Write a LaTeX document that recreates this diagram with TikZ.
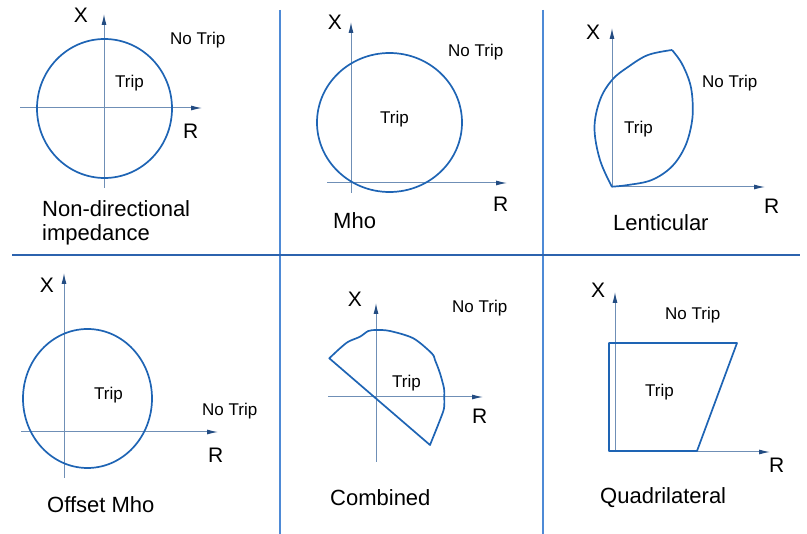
\documentclass[tikz,border=0pt]{standalone}
\usepackage{fontspec}
\setmainfont{Liberation Sans}
\usetikzlibrary{arrows.meta}
\definecolor{shapec}{HTML}{1E64B4}
\definecolor{axisc}{HTML}{6F8FB6}
\definecolor{axtip}{HTML}{234C82}
\definecolor{divv}{HTML}{4E8AD6}
\definecolor{divh}{HTML}{2C63AE}
\tikzset{
  axisline/.style={draw=axisc, line width=1pt, -{Latex[length=11pt,width=5pt,color=axtip]}},
  plainaxis/.style={draw=axisc, line width=1pt},
  region/.style={draw=shapec, line width=1.7pt, line join=round},
  divline/.style={draw=divv, line width=1.8pt},
  hdivline/.style={draw=divh, line width=1.5pt},
  big/.style={font=\fontsize{22}{24}\selectfont, inner sep=0pt, anchor=base west},
  axlbl/.style={font=\fontsize{21}{24}\selectfont, inner sep=0pt, anchor=base},
  axlblw/.style={font=\fontsize{21}{24}\selectfont, inner sep=0pt, anchor=base west},
  small/.style={font=\fontsize{17}{20}\selectfont, inner sep=0pt, anchor=base west},
}
\begin{document}
\begin{tikzpicture}[x=1pt,y=-1pt]
\useasboundingbox (0,0) rectangle (807,534);

% dividers
\coordinate (v1t) at (280,10); \coordinate (v1b) at (280,534);
\coordinate (v2t) at (543,10); \coordinate (v2b) at (543,534);
\coordinate (hl) at (12,255); \coordinate (hr) at (800,255);
\draw[divline] (v1t) -- (v1b);
\draw[divline] (v2t) -- (v2b);
\draw[hdivline] (hl) -- (hr);

% ---------- Panel 1: Non-directional impedance
\coordinate (p1xb) at (104,188); \coordinate (p1xt) at (104,14);
\coordinate (p1rl) at (20,108); \coordinate (p1rr) at (202,108);
\draw[axisline] (p1xb) -- (p1xt);
\draw[axisline] (p1rl) -- (p1rr);
\draw[region] (104.5,108.5) ellipse [x radius=67.5, y radius=69.5];
\node[axlbl] (p1X) at (81,23) {X};
\node[axlblw] (p1R) at (183,139) {R};
\node[small] (p1no) at (170,44.5) {No Trip};
\node[small] (p1trip) at (115,88) {Trip};
\node[big] (p1t1) at (42,217) {Non-directional};
\node[big] (p1t2) at (42,241) {impedance};

% ---------- Panel 2: Mho
\coordinate (p2xb) at (351,193); \coordinate (p2xt) at (351,22);
\coordinate (p2rl) at (327,183); \coordinate (p2rr) at (507,183);
\draw[axisline] (p2xb) -- (p2xt);
\draw[axisline] (p2rl) -- (p2rr);
\draw[region] (389.5,122.5) ellipse [x radius=72.5, y radius=69.5];
\node[axlbl] (p2X) at (335,30) {X};
\node[axlblw] (p2R) at (493,211.5) {R};
\node[small] (p2no) at (448,56.5) {No Trip};
\node[small] (p2trip) at (380,124) {Trip};
\node[big] (p2t) at (333,229) {Mho};

% ---------- Panel 3: Lenticular
\coordinate (p3o) at (612,187); \coordinate (p3xt) at (612,28);
\coordinate (p3rr) at (765,187);
\draw[axisline] (p3o) -- (p3xt);
\draw[axisline] (p3o) -- (p3rr);
\draw[region] plot[smooth, tension=0.6] coordinates {(612,187) (600,160) (594.5,128) (600,100) (612,80) (628,67) (648,55) (672,50)};
\draw[region] plot[smooth, tension=0.6] coordinates {(672,50) (681.7,63.3) (690,83.3) (692.7,103.3) (691.7,123.3) (685,146.7) (671.7,166.7) (651.7,180) (628,185) (612,186.7)};
\node[axlbl] (p3X) at (593,40) {X};
\node[axlblw] (p3R) at (764,214) {R};
\node[small] (p3no) at (702,88) {No Trip};
\node[small] (p3trip) at (624,134) {Trip};
\node[big] (p3t) at (613,231) {Lenticular};

% ---------- Panel 4: Offset Mho
\coordinate (p4xb) at (64,478); \coordinate (p4xt) at (64,273);
\coordinate (p4rl) at (21,432); \coordinate (p4rr) at (218,432);
\draw[axisline] (p4xb) -- (p4xt);
\draw[axisline] (p4rl) -- (p4rr);
\draw[region] (87.5,398.5) ellipse [x radius=64.5, y radius=69.5];
\node[axlbl] (p4X) at (47,293) {X};
\node[axlblw] (p4R) at (208,462.5) {R};
\node[small] (p4no) at (202,415.5) {No Trip};
\node[small] (p4trip) at (94,400) {Trip};
\node[big] (p4t) at (47,513) {Offset Mho};

% ---------- Panel 5: Combined
\coordinate (p5xb) at (376,462); \coordinate (p5xt) at (376,303);
\coordinate (p5rl) at (328,397); \coordinate (p5rr) at (483,397);
\draw[axisline] (p5xb) -- (p5xt);
\draw[axisline] (p5rl) -- (p5rr);
\draw[region] plot[smooth, tension=0.5] coordinates {(329.3,358.3) (340,348.3) (348.3,341.7) (360,336.7) (368.3,331) (376.7,330) (390,331) (413.3,338.3) (431.7,353.3) (435,360) (440,373.3) (444,388.3) (444.3,396.7) (444,408.3) (440,420) (430,445)} -- cycle;
\node[axlbl] (p5X) at (355,307) {X};
\node[axlblw] (p5R) at (472,424) {R};
\node[small] (p5no) at (452,313) {No Trip};
\node[small] (p5trip) at (392,387.5) {Trip};
\node[big] (p5t) at (330,505.5) {Combined};

% ---------- Panel 6: Quadrilateral
\coordinate (p6o) at (615,452); \coordinate (p6xt) at (615,292);
\coordinate (p6rr) at (770,452);
\draw[axisline] (p6o) -- (p6xt);
\draw[axisline] (p6o) -- (p6rr);
\draw[region] (609,343) -- (737,343) -- (697,451) -- (609,451) -- cycle;
\node[axlbl] (p6X) at (598,298) {X};
\node[axlblw] (p6R) at (769,473) {R};
\node[small] (p6no) at (665,320) {No Trip};
\node[small] (p6trip) at (645,397) {Trip};
\node[big] (p6t) at (600,504) {Quadrilateral};
\end{tikzpicture}
\end{document}
